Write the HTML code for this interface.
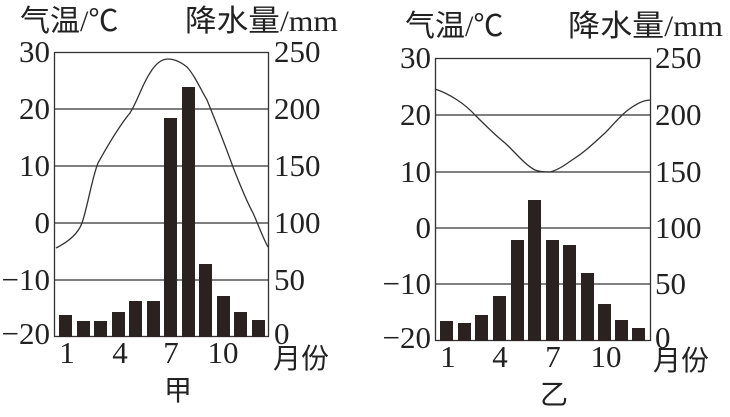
<!DOCTYPE html>
<html><head><meta charset="utf-8"><style>
html,body{margin:0;padding:0;background:#fff;}
svg text{font-family:"Liberation Serif","Noto Serif CJK SC",serif;fill:#222;}
.cj{font-family:"Liberation Serif","Noto Sans CJK SC",sans-serif;}
</style></head><body>
<svg width="730" height="412" viewBox="0 0 730 412" xmlns="http://www.w3.org/2000/svg">
<g stroke="#333" stroke-width="1.3" fill="none">
<rect x="54.5" y="52.5" width="214" height="284"/>
<line x1="54" y1="109" x2="268" y2="109"/><line x1="54" y1="166" x2="268" y2="166"/><line x1="54" y1="223" x2="268" y2="223"/><line x1="54" y1="280" x2="268" y2="280"/>
<rect x="435.5" y="58.5" width="215" height="282"/>
<line x1="435" y1="115" x2="650" y2="115"/><line x1="435" y1="172" x2="650" y2="172"/><line x1="435" y1="228" x2="650" y2="228"/><line x1="435" y1="284" x2="650" y2="284"/>
</g>
<g fill="#2a2220">
<rect x="59" y="315" width="13" height="22"/><rect x="77" y="321" width="13" height="16"/><rect x="94" y="321" width="13" height="16"/><rect x="112" y="312" width="13" height="25"/><rect x="129" y="301" width="13" height="36"/><rect x="147" y="301" width="13" height="36"/><rect x="164" y="118" width="13" height="219"/><rect x="182" y="87" width="13" height="250"/><rect x="199" y="264" width="13" height="73"/><rect x="217" y="296" width="13" height="41"/><rect x="234" y="312" width="13" height="25"/><rect x="252" y="320" width="13" height="17"/>
<rect x="440" y="321" width="13" height="20"/><rect x="458" y="323" width="13" height="18"/><rect x="475" y="315" width="13" height="26"/><rect x="493" y="296" width="13" height="45"/><rect x="511" y="240" width="13" height="101"/><rect x="528" y="200" width="13" height="141"/><rect x="546" y="240" width="13" height="101"/><rect x="563" y="245" width="13" height="96"/><rect x="581" y="273" width="13" height="68"/><rect x="598" y="304" width="13" height="37"/><rect x="615" y="320" width="13" height="21"/><rect x="632" y="328" width="13" height="13"/>
</g>
<g stroke="#333" stroke-width="1.3" fill="none">
<path d="M56,248 C68,242 78,234 82,223 C88,205 92,178 98,163 C108,145 120,125 130,113 C138,100 142,85 150,73 C156,63 162,59 168,59 C176,59 182,63 187,67 C195,76 200,88 207,100 C216,122 225,145 233,167 C240,185 246,200 253,213 C258,224 263,238 268,247"/>
<path d="M435,89 C450,94 465,104 475,115 C487,127 495,135 505,143 C515,152 525,165 535,170 C540,172 545,172 550,172 C558,170 565,165 572,160 C585,152 595,142 605,133 C613,125 620,116 628,110 C636,104 643,100 650,100"/>
</g>
<g font-size="31">
<text x="50" y="62" text-anchor="end">30</text><text x="50" y="119" text-anchor="end">20</text><text x="50" y="176" text-anchor="end">10</text><text x="50" y="233" text-anchor="end">0</text><text x="50" y="290" text-anchor="end">−10</text><text x="50" y="344" text-anchor="end">−20</text>
<text x="274" y="62">250</text><text x="274" y="119">200</text><text x="274" y="176">150</text><text x="274" y="233">100</text><text x="274" y="290">50</text><text x="274" y="344">0</text>
<text x="67" y="363" text-anchor="middle">1</text><text x="120" y="363" text-anchor="middle">4</text><text x="171" y="363" text-anchor="middle">7</text><text x="223" y="363" text-anchor="middle">10</text>
<text x="431" y="68" text-anchor="end">30</text><text x="431" y="125" text-anchor="end">20</text><text x="431" y="182" text-anchor="end">10</text><text x="431" y="238" text-anchor="end">0</text><text x="431" y="294" text-anchor="end">−10</text><text x="431" y="348" text-anchor="end">−20</text>
<text x="655" y="68">250</text><text x="655" y="125">200</text><text x="655" y="182">150</text><text x="655" y="238">100</text><text x="655" y="294">50</text><text x="655" y="348">0</text>
<text x="448" y="367" text-anchor="middle">1</text><text x="500" y="367" text-anchor="middle">4</text><text x="553" y="367" text-anchor="middle">7</text><text x="606" y="367" text-anchor="middle">10</text>
</g>
<g class="cj">
<text x="20" y="31" font-size="30" class="cj">气温/℃</text><text x="185" y="31" font-size="30" class="cj" textLength="153" lengthAdjust="spacingAndGlyphs">降水量/mm</text>
<text x="273" y="368" font-size="28" class="cj">月份</text><text x="164" y="400" font-size="28" class="cj">甲</text>
<text x="405" y="36" font-size="30" class="cj">气温/℃</text><text x="568" y="36" font-size="30" class="cj" textLength="155" lengthAdjust="spacingAndGlyphs">降水量/mm</text>
<text x="653" y="370" font-size="28" class="cj">月份</text><text x="540" y="404" font-size="28" class="cj">乙</text>
</g>
</svg>
</body></html>
